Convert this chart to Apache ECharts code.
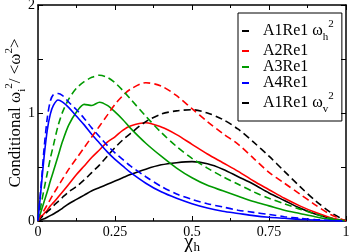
<!DOCTYPE html>
<html><head><meta charset="utf-8">
<script src="https://cdn.jsdelivr.net/npm/echarts@6/dist/echarts.min.js"></script>
<style>html,body{margin:0;padding:0;background:#fff}#c{width:349px;height:252px}</style>
</head><body><div id="c"></div>
<script>
const xs = [0,0.01,0.02,0.03,0.04,0.05,0.065,0.08,0.1,0.125,0.15,0.175,0.2,0.225,0.25,0.275,0.3,0.35,0.4,0.45,0.5,0.55,0.6,0.65,0.7,0.75,0.8,0.85,0.9,0.95,1];
const a1h = [0,0.01,0.02,0.035,0.05,0.065,0.09,0.12,0.16,0.20,0.24,0.28,0.31,0.34,0.37,0.40,0.43,0.48,0.52,0.54,0.55,0.53,0.48,0.41,0.34,0.26,0.19,0.12,0.065,0.025,0];
const a2 = [0,0.035,0.07,0.10,0.14,0.17,0.22,0.27,0.34,0.43,0.51,0.59,0.66,0.73,0.78,0.84,0.88,0.91,0.87,0.80,0.71,0.62,0.54,0.46,0.37,0.29,0.21,0.14,0.08,0.03,0];
const a3 = [0,0.09,0.18,0.27,0.37,0.46,0.60,0.74,0.89,1.01,1.08,1.07,1.10,1.07,1.01,0.94,0.86,0.72,0.60,0.49,0.40,0.33,0.28,0.23,0.18,0.14,0.10,0.07,0.04,0.015,0];
const a4 = [0,0.30,0.60,0.84,0.99,1.07,1.12,1.10,1.05,0.97,0.89,0.80,0.72,0.64,0.57,0.51,0.45,0.35,0.27,0.21,0.16,0.12,0.09,0.07,0.05,0.035,0.025,0.015,0.008,0.003,0];
const a1v = [0,0.03,0.06,0.085,0.11,0.14,0.18,0.22,0.27,0.32,0.38,0.45,0.52,0.60,0.68,0.75,0.81,0.92,0.99,1.02,1.03,1.00,0.94,0.85,0.73,0.60,0.46,0.32,0.19,0.08,0];
const a2v = [0,0.05,0.10,0.15,0.20,0.25,0.32,0.39,0.48,0.58,0.68,0.78,0.88,0.98,1.08,1.16,1.22,1.28,1.25,1.16,1.04,0.92,0.81,0.71,0.58,0.45,0.35,0.25,0.15,0.06,0];
const a3v = [0,0.15,0.30,0.44,0.58,0.70,0.88,1.01,1.13,1.23,1.29,1.33,1.35,1.33,1.28,1.21,1.13,0.97,0.82,0.69,0.58,0.49,0.41,0.34,0.27,0.21,0.16,0.11,0.065,0.025,0];
const a4v = [0,0.33,0.68,0.95,1.11,1.17,1.18,1.16,1.10,1.03,0.95,0.86,0.78,0.70,0.63,0.57,0.51,0.41,0.32,0.25,0.20,0.16,0.13,0.10,0.08,0.06,0.04,0.025,0.013,0.005,0];
const names = ['A1Re1 wh','A2Re1','A3Re1','A4Re1','A1Re1 wv'];
const xTicks = [0,0.25,0.5,0.75,1];
const yTicks = [0,1,2];

const F = '"Liberation Serif", "Times New Roman", serif';
const pair = (ys) => xs.map((x,i)=>[x, ys[i]]);
const GREEN = '#009a00';
function ser(name, ys, color, dashed, legend) {
  return {
    name: legend ? name : undefined, type:'line', data: pair(ys), showSymbol:false, smooth:0.3,
    lineStyle:{color, width:1.6, type: dashed ? [7,4] : 'solid'}, itemStyle:{color}, z: 3
  };
}
const series = [
  ser(names[0], a1h, '#000', false, true),
  ser(names[1], a2, '#ff0000', false, true),
  ser(names[2], a3, GREEN, false, true),
  ser(names[3], a4, '#0000ff', false, true),
  ser(names[4], a1v, '#000', true, true),
  ser('r', a2v, '#ff0000', true, false),
  ser('g', a3v, GREEN, true, false),
  ser('b', a4v, '#0000ff', true, false)
];
const rich = {
  n:{fontFamily:F, fontSize:16, color:'#000', lineHeight:24},
  sub:{fontFamily:F, fontSize:11, color:'#000', verticalAlign:'bottom', lineHeight:12},
  sup:{fontFamily:F, fontSize:11, color:'#000', verticalAlign:'top', lineHeight:12}
};
const chart = echarts.init(document.getElementById('c'), null, {renderer:'canvas'});
const axCommon = {
  min:0, max:1, interval:0.25,
  axisLine:{show:true, onZero:false, lineStyle:{color:'#000', width:1.5}},
  axisTick:{show:true, inside:true, length:5, lineStyle:{color:'#000'}},
  minorTick:{show:true, splitNumber:2, length:3, lineStyle:{color:'#000'}},
  splitLine:{show:false}
};
chart.setOption({
  animation:false,
  backgroundColor:'#fff',
  grid:{left:38, right:3, top:5, bottom:31, containLabel:false, outerBoundsMode:'none'},
  legend:{
    data: names, left:238, top:13, orient:'vertical', itemGap:0,
    borderColor:'#000', borderWidth:1, padding:[6,8,6,4],
    icon:'rect', itemWidth:7, itemHeight:2,
    textStyle:{fontFamily:F, fontSize:16, color:'#000', padding:[0,0,0,9], lineHeight:14, rich: rich},
    formatter: (nm) => nm === names[0] ? '{n|A1Re1 ω}{sub|h}{sup|2}' : nm === names[4] ? '{n|A1Re1 ω}{sub|v}{sup|2}' : nm
  },
  xAxis:[
    Object.assign({type:'value', position:'bottom',
      axisLabel:{fontFamily:F, fontSize:14, color:'#000', margin:4,
        formatter:(v)=> xTicks.indexOf(v) >= 0 ? String(v) : ''},
      name:'{c|χ}{s|h}', nameLocation:'middle', nameGap:9, nameMoveOverlap:false,
      nameTextStyle:{rich:{c:{fontFamily:F, fontSize:21, color:'#000', lineHeight:24}, s:{fontFamily:F, fontSize:13, color:'#000', verticalAlign:'bottom', lineHeight:14}}}
    }, axCommon),
    Object.assign({type:'value', position:'top', axisLabel:{show:false}}, axCommon)
  ],
  yAxis:[
    {type:'value', min:0, max:2, interval:1, position:'left',
      axisLine:{show:true, onZero:false, lineStyle:{color:'#000', width:1.5}},
      axisTick:{show:true, inside:true, length:5, lineStyle:{color:'#000'}},
      minorTick:{show:true, splitNumber:2, length:5, lineStyle:{color:'#000'}},
      splitLine:{show:false},
      axisLabel:{fontFamily:F, fontSize:14, color:'#000', margin:3,
        formatter:(v)=> yTicks.indexOf(v) >= 0 ? String(v) : ''},
      name:'{n|Conditional ω}{sub|i}{sup|2}{n|/ <ω}{sup|2}{n|>}', nameLocation:'middle', nameGap:10, nameRotate:90, nameMoveOverlap:false,
      nameTextStyle:{rich:{
        n:{fontFamily:F, fontSize:17, color:'#000', lineHeight:24},
        sub:{fontFamily:F, fontSize:11, color:'#000', verticalAlign:'bottom', lineHeight:12},
        sup:{fontFamily:F, fontSize:11, color:'#000', verticalAlign:'top', lineHeight:12}
      }}
    },
    {type:'value', min:0, max:2, interval:1, position:'right',
      axisLine:{show:true, onZero:false, lineStyle:{color:'#000', width:1.5}},
      axisTick:{show:true, inside:true, length:5, lineStyle:{color:'#000'}},
      minorTick:{show:true, splitNumber:2, length:5, lineStyle:{color:'#000'}},
      splitLine:{show:false}, axisLabel:{show:false}
    }
  ],
  series: series
});
</script></body></html>
